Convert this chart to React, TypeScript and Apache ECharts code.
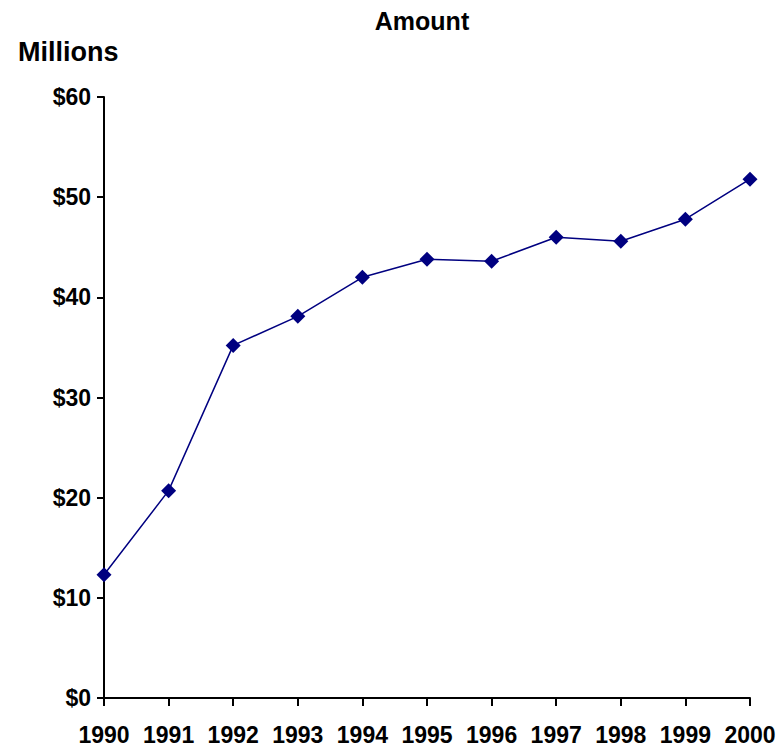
import React, { useEffect, useRef } from "react";
import * as echarts from "echarts";

const years = ["1990", "1991", "1992", "1993", "1994", "1995", "1996", "1997", "1998", "1999", "2000"];
const amounts = [12.3, 20.7, 35.2, 38.1, 42.0, 43.8, 43.6, 46.0, 45.6, 47.8, 51.8];
const yTicks = [0, 10, 20, 30, 40, 50, 60];

const FONT = "'Liberation Sans', Arial, sans-serif";

export default function App() {
  const ref = useRef<HTMLDivElement>(null);
  useEffect(() => {
    if (!ref.current) return;
    const chart = echarts.init(ref.current, null, { renderer: "svg" });
    chart.setOption({
      animation: false,
      backgroundColor: "#ffffff",
      title: {
        text: "Amount",
        left: 417,
        top: 3,
        textAlign: "center",
        textStyle: { fontFamily: FONT, fontWeight: "bold", fontSize: 25, color: "#000" },
      },
      graphic: [
        {
          type: "text",
          left: 18,
          top: 38,
          style: { text: "Millions", font: `bold 27px ${FONT}`, fill: "#000" },
        },
      ],
      grid: { left: 104, right: 33, top: 97, bottom: 55, containLabel: false },
      xAxis: {
        type: "category",
        data: years,
        boundaryGap: false,
        axisLine: { lineStyle: { color: "#000", width: 2 } },
        axisTick: { show: true, length: 8, alignWithLabel: true, lineStyle: { color: "#000", width: 2 } },
        axisLabel: { margin: 25, fontFamily: FONT, fontWeight: "bold", fontSize: 23, color: "#000", interval: 0 },
        splitLine: { show: false },
      },
      yAxis: {
        type: "value",
        min: yTicks[0],
        max: yTicks[yTicks.length - 1],
        interval: 10,
        axisLine: { show: true, lineStyle: { color: "#000", width: 2 } },
        axisTick: { show: true, length: 7, lineStyle: { color: "#000", width: 2 } },
        axisLabel: {
          margin: 13,
          fontFamily: FONT,
          fontWeight: "bold",
          fontSize: 23,
          color: "#000",
          formatter: (v: number) => "$" + v,
        },
        splitLine: { show: false },
      },
      series: [
        {
          type: "line",
          data: amounts,
          symbol: "diamond",
          symbolSize: 15,
          itemStyle: { color: "#000080" },
          lineStyle: { color: "#000080", width: 1.5 },
        },
      ],
    });
    return () => chart.dispose();
  }, []);
  return <div ref={ref} style={{ width: 783, height: 753, position: "absolute", left: 0, top: 0 }} />;
}
